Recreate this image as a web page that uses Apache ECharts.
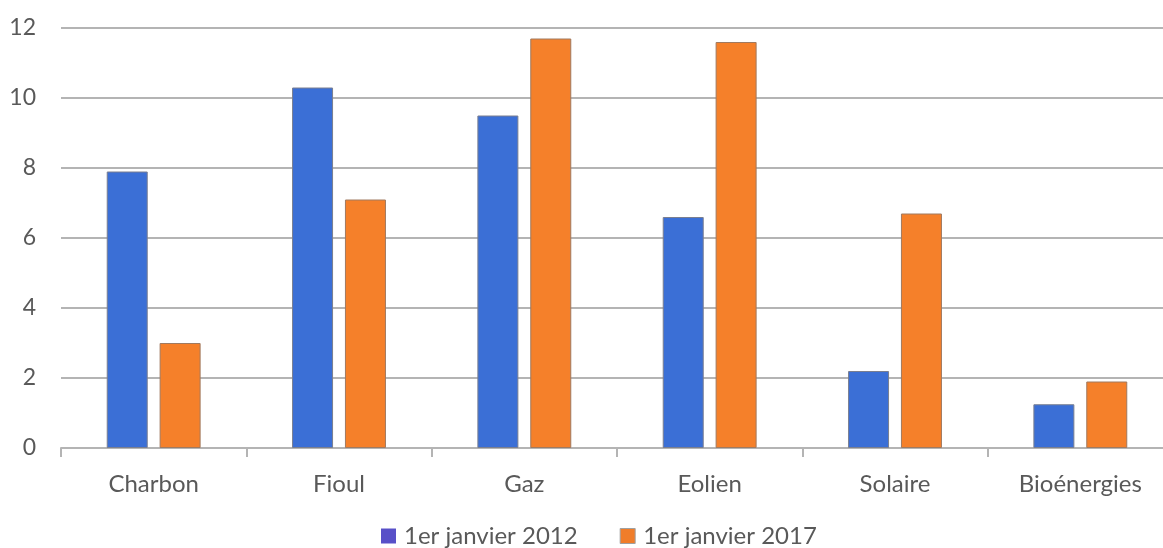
<!DOCTYPE html>
<html>
<head>
<meta charset="utf-8">
<script src="https://cdn.jsdelivr.net/npm/echarts@6/dist/echarts.min.js"></script>
<style>
  html, body { margin: 0; padding: 0; background: #fff; }
  #chart { width: 1163px; height: 548px; }
</style>
</head>
<body>
<div id="chart"></div>
<script>
// Puissance installée par filière (GW)
const categories = ['Charbon', 'Fioul', 'Gaz', 'Eolien', 'Solaire', 'Bioénergies'];
const values2012 = [7.9, 10.3, 9.5, 6.6, 2.2, 1.25];
const values2017 = [3.0, 7.1, 11.7, 11.6, 6.7, 1.9];
const seriesNames = ['1er janvier 2012', '1er janvier 2017'];

const textColor = '#595959';
const gridColor = '#b4b4b4';
const font = 'Lato, Open Sans, sans-serif';

const chart = echarts.init(document.getElementById('chart'));
chart.setOption({
  animation: false,
  // the plot area runs slightly past the right edge of the canvas
  grid: { left: 61, top: 28, width: 1112, height: 420, containLabel: false, outerBoundsMode: 'none' },
  legend: {
    top: 518,
    left: 376,
    itemWidth: 15,
    itemHeight: 15,
    itemGap: 42,
    textStyle: { color: textColor, fontSize: 24, fontFamily: font, lineHeight: 26, padding: [0, 0, 0, 3] },
    data: [
      { name: seriesNames[0], icon: 'rect', itemStyle: { color: '#5850c8', borderWidth: 0 } },
      { name: seriesNames[1], icon: 'rect', itemStyle: { color: '#f07d2a', borderColor: '#a0a0a0', borderWidth: 1 } }
    ]
  },
  xAxis: {
    type: 'category',
    data: categories,
    axisLine: { lineStyle: { color: gridColor, width: 2 } },
    axisTick: { show: true, length: 9, lineStyle: { color: gridColor, width: 2 } },
    axisLabel: { color: textColor, fontSize: 24, fontFamily: font, margin: 24 }
  },
  yAxis: {
    type: 'value',
    min: 0,
    max: 12,
    interval: 2,
    axisLine: { show: false },
    axisTick: { show: false },
    splitLine: { lineStyle: { color: gridColor, width: 2 } },
    axisLabel: { color: textColor, fontSize: 23, fontFamily: font, margin: 25 }
  },
  series: [
    {
      name: seriesNames[0],
      type: 'bar',
      data: values2012,
      barWidth: 41,
      barGap: '29%',
      itemStyle: { color: '#3b6fd6', borderColor: '#7a7f90', borderWidth: 1 }
    },
    {
      name: seriesNames[1],
      type: 'bar',
      data: values2017,
      barWidth: 41,
      barGap: '29%',
      itemStyle: { color: '#f5802a', borderColor: '#a07a60', borderWidth: 1 }
    }
  ]
});
</script>
</body>
</html>
